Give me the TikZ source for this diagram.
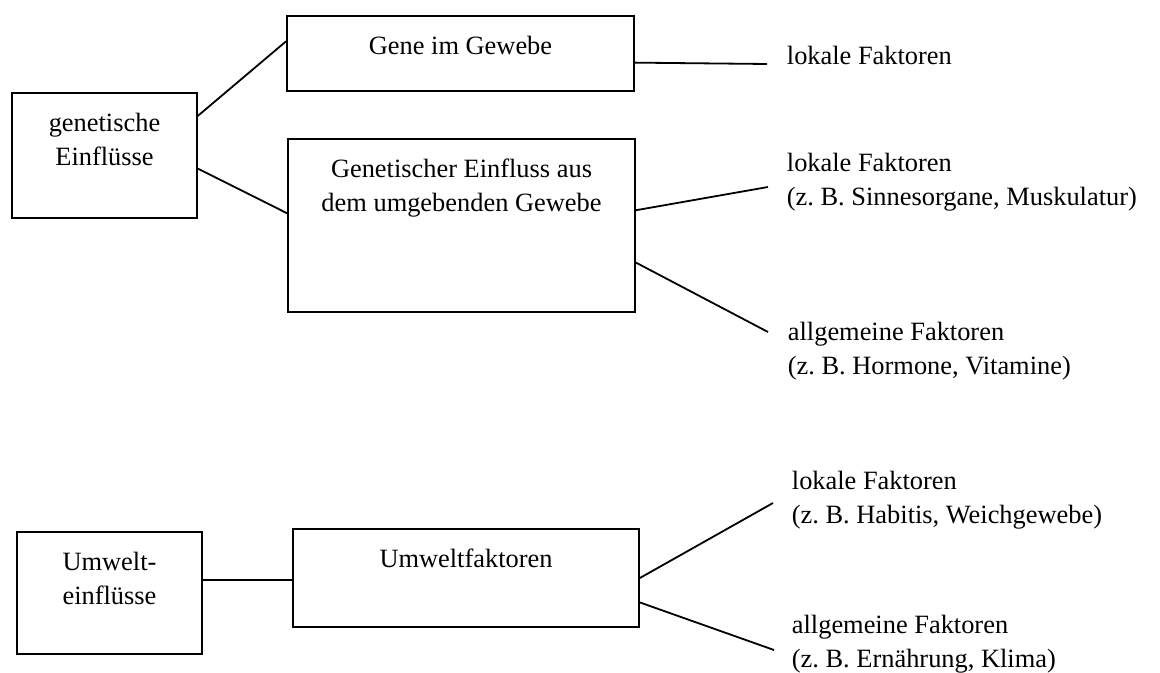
\documentclass[tikz,border=0pt]{standalone}
\usepackage{fontspec}
\setmainfont{Liberation Serif}
\usetikzlibrary{positioning}

\begin{document}
\begin{tikzpicture}[
    x=0.5pt, y=-0.5pt,
    line width=0.9pt,
    font=\fontsize{13.2pt}{17.2pt}\selectfont,
    box/.style={draw, inner sep=0pt},
    inlbl/.style={anchor=north, yshift=-10pt, align=center, inner sep=0pt},
    fac/.style={anchor=north west, align=left, inner sep=0pt},
]
\useasboundingbox (0,0) rectangle (1160,673);

% --- genetic influences ---
\node[box, minimum width=92.5pt, minimum height=62.5pt,
      label={[inlbl]north:{genetische\\Einflüsse}}] (gen) at (104.5,155.5) {};
\node[box, minimum width=173.5pt, minimum height=37.5pt,
      label={[inlbl]north:{Gene im Gewebe}}] (geneGew) at (460.5,53.5) {};
\node[box, minimum width=173.5pt, minimum height=86.5pt,
      label={[inlbl]north:{Genetischer Einfluss aus\\dem umgebenden Gewebe}}] (umgGew) at (461.5,225.5) {};

\draw (gen.23) -- (geneGew.176.5);
\draw (gen.-8) -- (umgGew.176);

% factors on the right
\coordinate (e1) at (767,64);
\coordinate (e2) at (768,187);
\coordinate (e3) at (768,332);
\draw (geneGew.-3.5) -- (e1);
\draw (umgGew.5)     -- (e2);
\draw (umgGew.-12)   -- (e3);

\node[fac] (lok1)  at (786,45)  {lokale Faktoren};
\node[fac] (lok2)  at (786,152) {lokale Faktoren\\(z.~B. Sinnesorgane, Muskulatur)};
\node[fac] (allg1) at (787,321) {allgemeine Faktoren\\(z.~B. Hormone, Vitamine)};

% --- environmental influences ---
\node[box, minimum width=92.5pt, minimum height=61pt,
      label={[inlbl]north:{Umwelt-\\einflüsse}}] (umw) at (109.5,593) {};
\node[box, minimum width=173pt, minimum height=49pt,
      label={[inlbl]north:{Umweltfaktoren}}] (umwFak) at (466,578) {};

\draw (umw.8) -- (umw.8 -| umwFak.west);

\coordinate (e4) at (773,503);
\coordinate (e5) at (774,650);
\draw (umwFak.east) -- (e4);
\draw (umwFak.-8)   -- (e5);

\node[fac] (lok3)  at (791,470) {lokale Faktoren\\(z.~B. Habitis, Weichgewebe)};
\node[fac] (allg2) at (791,614) {allgemeine Faktoren\\(z.~B. Ernährung, Klima)};

\end{tikzpicture}
\end{document}
